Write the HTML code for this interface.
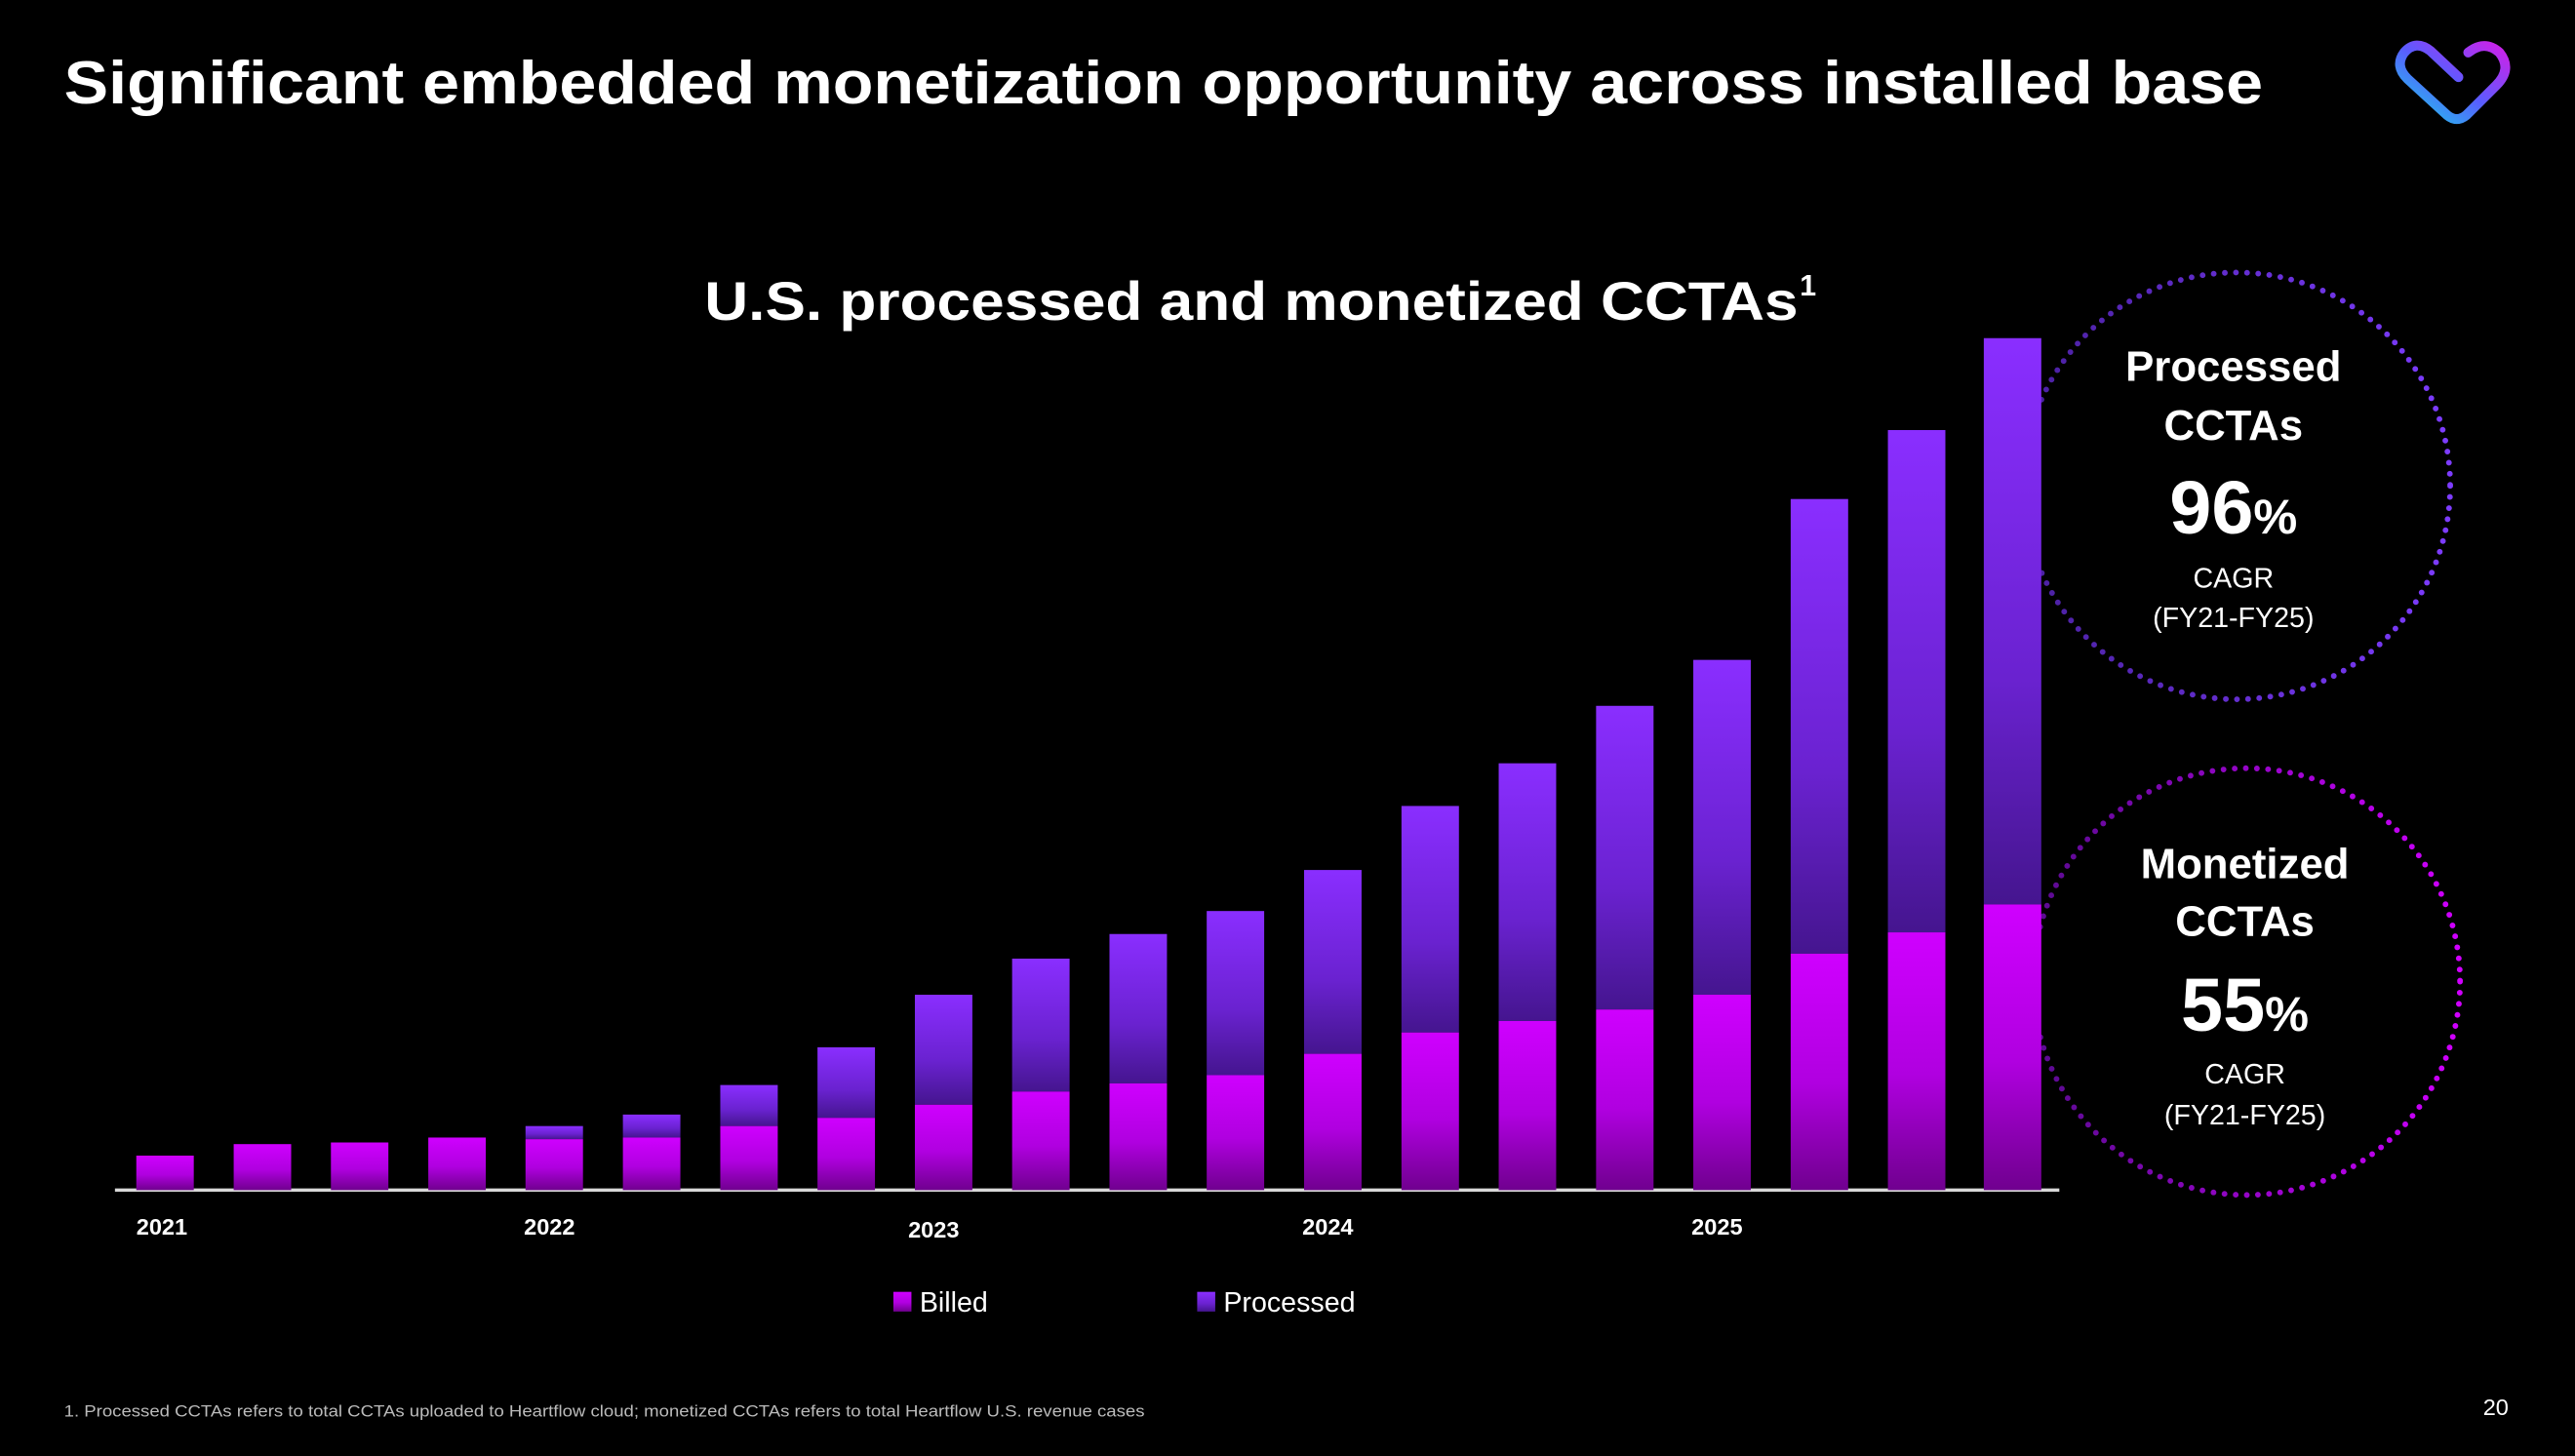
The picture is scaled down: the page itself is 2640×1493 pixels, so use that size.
<!DOCTYPE html>
<html><head><meta charset="utf-8"><style>html,body{margin:0;padding:0;background:#000;}svg{display:block}</style></head>
<body>
<svg xmlns="http://www.w3.org/2000/svg" width="2640" height="1493" viewBox="0 0 1568 887" preserveAspectRatio="none" font-family="Liberation Sans, sans-serif">
<defs>
<linearGradient id="bil" x1="0" y1="0" x2="0" y2="1"><stop offset="0" stop-color="#cf00ff"/><stop offset="0.55" stop-color="#b000e0"/><stop offset="1" stop-color="#70008f"/></linearGradient>
<linearGradient id="pro" x1="0" y1="0" x2="0" y2="1"><stop offset="0" stop-color="#8a2eff"/><stop offset="0.6" stop-color="#6a22d0"/><stop offset="1" stop-color="#45158f"/></linearGradient>
<linearGradient id="c2" x1="1" y1="0" x2="0" y2="0"><stop offset="0" stop-color="#d000ff"/><stop offset="1" stop-color="#5a0a90"/></linearGradient>
<linearGradient id="c1" x1="1" y1="0" x2="0" y2="0"><stop offset="0" stop-color="#7d3cff"/><stop offset="1" stop-color="#4a20a0"/></linearGradient>
<linearGradient id="logo" x1="0" y1="1" x2="1" y2="0"><stop offset="0" stop-color="#1ad0e8"/><stop offset="0.5" stop-color="#5a5cff"/><stop offset="1" stop-color="#d020e8"/></linearGradient>
</defs>
<rect width="1568" height="887" fill="#000"/>
<text x="39" y="63" fill="#fff" font-size="37" font-weight="bold" textLength="1339" lengthAdjust="spacingAndGlyphs">Significant embedded monetization opportunity across installed base</text>
<path d="M1497,47 L1480,31 Q1471,24 1464,32 Q1458,40 1466,48 L1490,70 Q1496,75 1502,70 L1520,52 Q1530,42 1522,32 Q1513,24 1503,32" fill="none" stroke="url(#logo)" stroke-width="6" stroke-linecap="round"/>
<text x="429" y="195" fill="#fff" font-size="33" font-weight="bold" textLength="666" lengthAdjust="spacingAndGlyphs">U.S. processed and monetized CCTAs</text>
<text x="1096" y="180" fill="#fff" font-size="18" font-weight="bold">1</text>
<g id="bars"></g>
<line x1="70" y1="725" x2="1254" y2="725" stroke="#d8d8d8" stroke-width="2"/>
<g fill="#fff" font-size="14" font-weight="bold">
<text x="83" y="752">2021</text><text x="319" y="752">2022</text><text x="553" y="754">2023</text><text x="793" y="752">2024</text><text x="1030" y="752">2025</text>
</g>
<rect x="544" y="787" width="11" height="12" fill="url(#bil)"/>
<text x="560" y="799" fill="#fff" font-size="17">Billed</text>
<rect x="729" y="787" width="11" height="12" fill="url(#pro)"/>
<text x="745" y="799" fill="#fff" font-size="17">Processed</text>
<circle cx="1362" cy="296" r="130" fill="none" stroke="url(#c1)" stroke-width="3.5" stroke-linecap="round" stroke-dasharray="0 6.8"/>
<circle cx="1368" cy="598" r="130" fill="none" stroke="url(#c2)" stroke-width="3.5" stroke-linecap="round" stroke-dasharray="0 6.8"/>
<g fill="#fff" text-anchor="middle">
<text x="1360" y="232" font-size="26" font-weight="bold">Processed</text>
<text x="1360" y="268" font-size="26" font-weight="bold">CCTAs</text>
<text x="1360" y="325" font-size="46" font-weight="bold">96<tspan font-size="30">%</tspan></text>
<text x="1360" y="358" font-size="17">CAGR</text>
<text x="1360" y="382" font-size="17">(FY21-FY25)</text>
<text x="1367" y="535" font-size="26" font-weight="bold">Monetized</text>
<text x="1367" y="570" font-size="26" font-weight="bold">CCTAs</text>
<text x="1367" y="628" font-size="46" font-weight="bold">55<tspan font-size="30">%</tspan></text>
<text x="1367" y="660" font-size="17">CAGR</text>
<text x="1367" y="685" font-size="17">(FY21-FY25)</text>
</g>
<text x="39" y="863" fill="#bbb" font-size="10" textLength="658" lengthAdjust="spacingAndGlyphs">1. Processed CCTAs refers to total CCTAs uploaded to Heartflow cloud; monetized CCTAs refers to total Heartflow U.S. revenue cases</text>
<text x="1512" y="862" fill="#fff" font-size="14">20</text>
<g>
<rect x="83" y="704" width="35" height="21" fill="url(#bil)"/>
<rect x="142.3" y="697" width="35" height="28" fill="url(#bil)"/>
<rect x="201.5" y="696" width="35" height="29" fill="url(#bil)"/>
<rect x="260.8" y="693" width="35" height="32" fill="url(#bil)"/>
<rect x="320" y="686" width="35" height="8" fill="url(#pro)"/><rect x="320" y="694" width="35" height="31" fill="url(#bil)"/>
<rect x="379.3" y="679" width="35" height="14" fill="url(#pro)"/><rect x="379.3" y="693" width="35" height="32" fill="url(#bil)"/>
<rect x="438.6" y="661" width="35" height="25" fill="url(#pro)"/><rect x="438.6" y="686" width="35" height="39" fill="url(#bil)"/>
<rect x="497.8" y="638" width="35" height="43" fill="url(#pro)"/><rect x="497.8" y="681" width="35" height="44" fill="url(#bil)"/>
<rect x="557.1" y="606" width="35" height="67" fill="url(#pro)"/><rect x="557.1" y="673" width="35" height="52" fill="url(#bil)"/>
<rect x="616.3" y="584" width="35" height="81" fill="url(#pro)"/><rect x="616.3" y="665" width="35" height="60" fill="url(#bil)"/>
<rect x="675.6" y="569" width="35" height="91" fill="url(#pro)"/><rect x="675.6" y="660" width="35" height="65" fill="url(#bil)"/>
<rect x="734.8" y="555" width="35" height="100" fill="url(#pro)"/><rect x="734.8" y="655" width="35" height="70" fill="url(#bil)"/>
<rect x="794.1" y="530" width="35" height="112" fill="url(#pro)"/><rect x="794.1" y="642" width="35" height="83" fill="url(#bil)"/>
<rect x="853.4" y="491" width="35" height="138" fill="url(#pro)"/><rect x="853.4" y="629" width="35" height="96" fill="url(#bil)"/>
<rect x="912.6" y="465" width="35" height="157" fill="url(#pro)"/><rect x="912.6" y="622" width="35" height="103" fill="url(#bil)"/>
<rect x="971.9" y="430" width="35" height="185" fill="url(#pro)"/><rect x="971.9" y="615" width="35" height="110" fill="url(#bil)"/>
<rect x="1031.1" y="402" width="35" height="204" fill="url(#pro)"/><rect x="1031.1" y="606" width="35" height="119" fill="url(#bil)"/>
<rect x="1090.4" y="304" width="35" height="277" fill="url(#pro)"/><rect x="1090.4" y="581" width="35" height="144" fill="url(#bil)"/>
<rect x="1149.6" y="262" width="35" height="306" fill="url(#pro)"/><rect x="1149.6" y="568" width="35" height="157" fill="url(#bil)"/>
<rect x="1208" y="206" width="35" height="345" fill="url(#pro)"/><rect x="1208" y="551" width="35" height="174" fill="url(#bil)"/>
</g>
</svg>
</body></html>
